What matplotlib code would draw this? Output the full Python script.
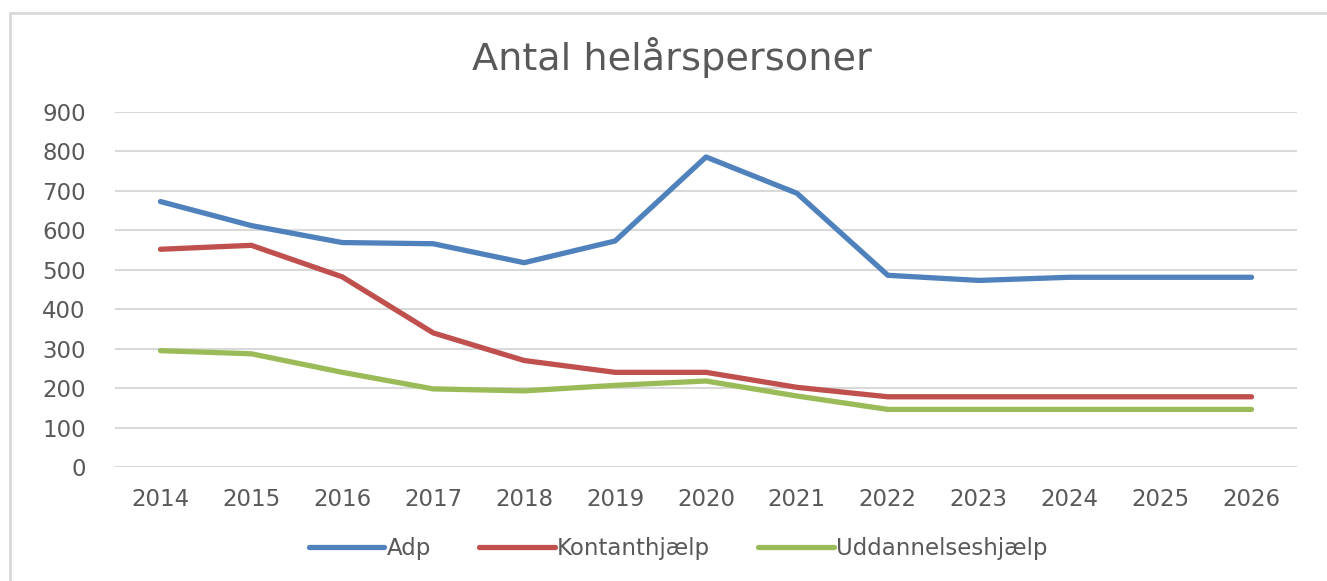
import matplotlib
matplotlib.use("Agg")
import matplotlib.pyplot as plt
from matplotlib.patches import Rectangle
from matplotlib.lines import Line2D

years = ["2014", "2015", "2016", "2017", "2018", "2019", "2020",
         "2021", "2022", "2023", "2024", "2025", "2026"]
adp = [673, 612, 569, 566, 518, 573, 786, 694, 486, 473, 481, 481, 481]
kontanthjaelp = [552, 562, 482, 340, 270, 240, 240, 202, 178, 178, 178, 178, 178]
uddannelseshjaelp = [295, 287, 240, 198, 193, 207, 218, 180, 146, 146, 146, 146, 146]
series_names = ["Adp", "Kontanthjælp", "Uddannelseshjælp"]
yticks = [0, 100, 200, 300, 400, 500, 600, 700, 800, 900]
title = "Antal helårspersoner"

colors = ["#4F81BD", "#C0504D", "#9BBB59"]
text_color = "#595959"
font = ["DejaVu Sans"]

W, H = 1327, 581
fig = plt.figure(figsize=(W / 100, H / 100), dpi=100)
fig.patch.set_facecolor("white")

# outer chart border
fig.patches.append(Rectangle((10 / W, -0.1), 1.2, 1 - 13 / H + 0.1,
                             transform=fig.transFigure, fill=False,
                             edgecolor="#D9D9D9", linewidth=2))

ax = fig.add_axes([115 / W, 1 - 467 / H, (1297 - 115) / W, (467 - 112) / H])
x = list(range(len(years)))
for vals, c, name in zip([adp, kontanthjaelp, uddannelseshjaelp], colors, series_names):
    ax.plot(x, vals, color=c, linewidth=3.8, solid_capstyle="round",
            solid_joinstyle="round", label=name, zorder=3)

ax.set_xlim(-0.5, len(years) - 0.5)
ax.set_ylim(0, 900)
ax.set_yticks(yticks)
ax.set_yticklabels([str(v) for v in yticks])
ax.set_xticks(x)
ax.set_xticklabels(years)
for s in ax.spines.values():
    s.set_visible(False)
ax.grid(axis="y", color="#D9D9D9", linewidth=1.5, zorder=0)
ax.set_axisbelow(True)
ax.tick_params(axis="both", length=0, colors=text_color, labelsize=16.5)
ax.tick_params(axis="y", pad=21)
ax.tick_params(axis="x", pad=15)
for lbl in ax.get_xticklabels() + ax.get_yticklabels():
    lbl.set_family(font)

fig.text(672 / W, 1 - 58 / H, title, ha="center", va="center",
         fontsize=27.5, color=text_color, family=font)

handles = [Line2D([0], [0], color=c, linewidth=3.8, solid_capstyle="round") for c in colors]
leg = fig.legend(handles, series_names, loc="center", bbox_to_anchor=(678 / W, 1 - 549 / H),
                 ncol=3, frameon=False, handlelength=3.3, handletextpad=0.1,
                 columnspacing=2.1, prop={"family": font, "size": 16.5})
for t in leg.get_texts():
    t.set_color(text_color)

fig.savefig("out.png", dpi=100, facecolor="white")
